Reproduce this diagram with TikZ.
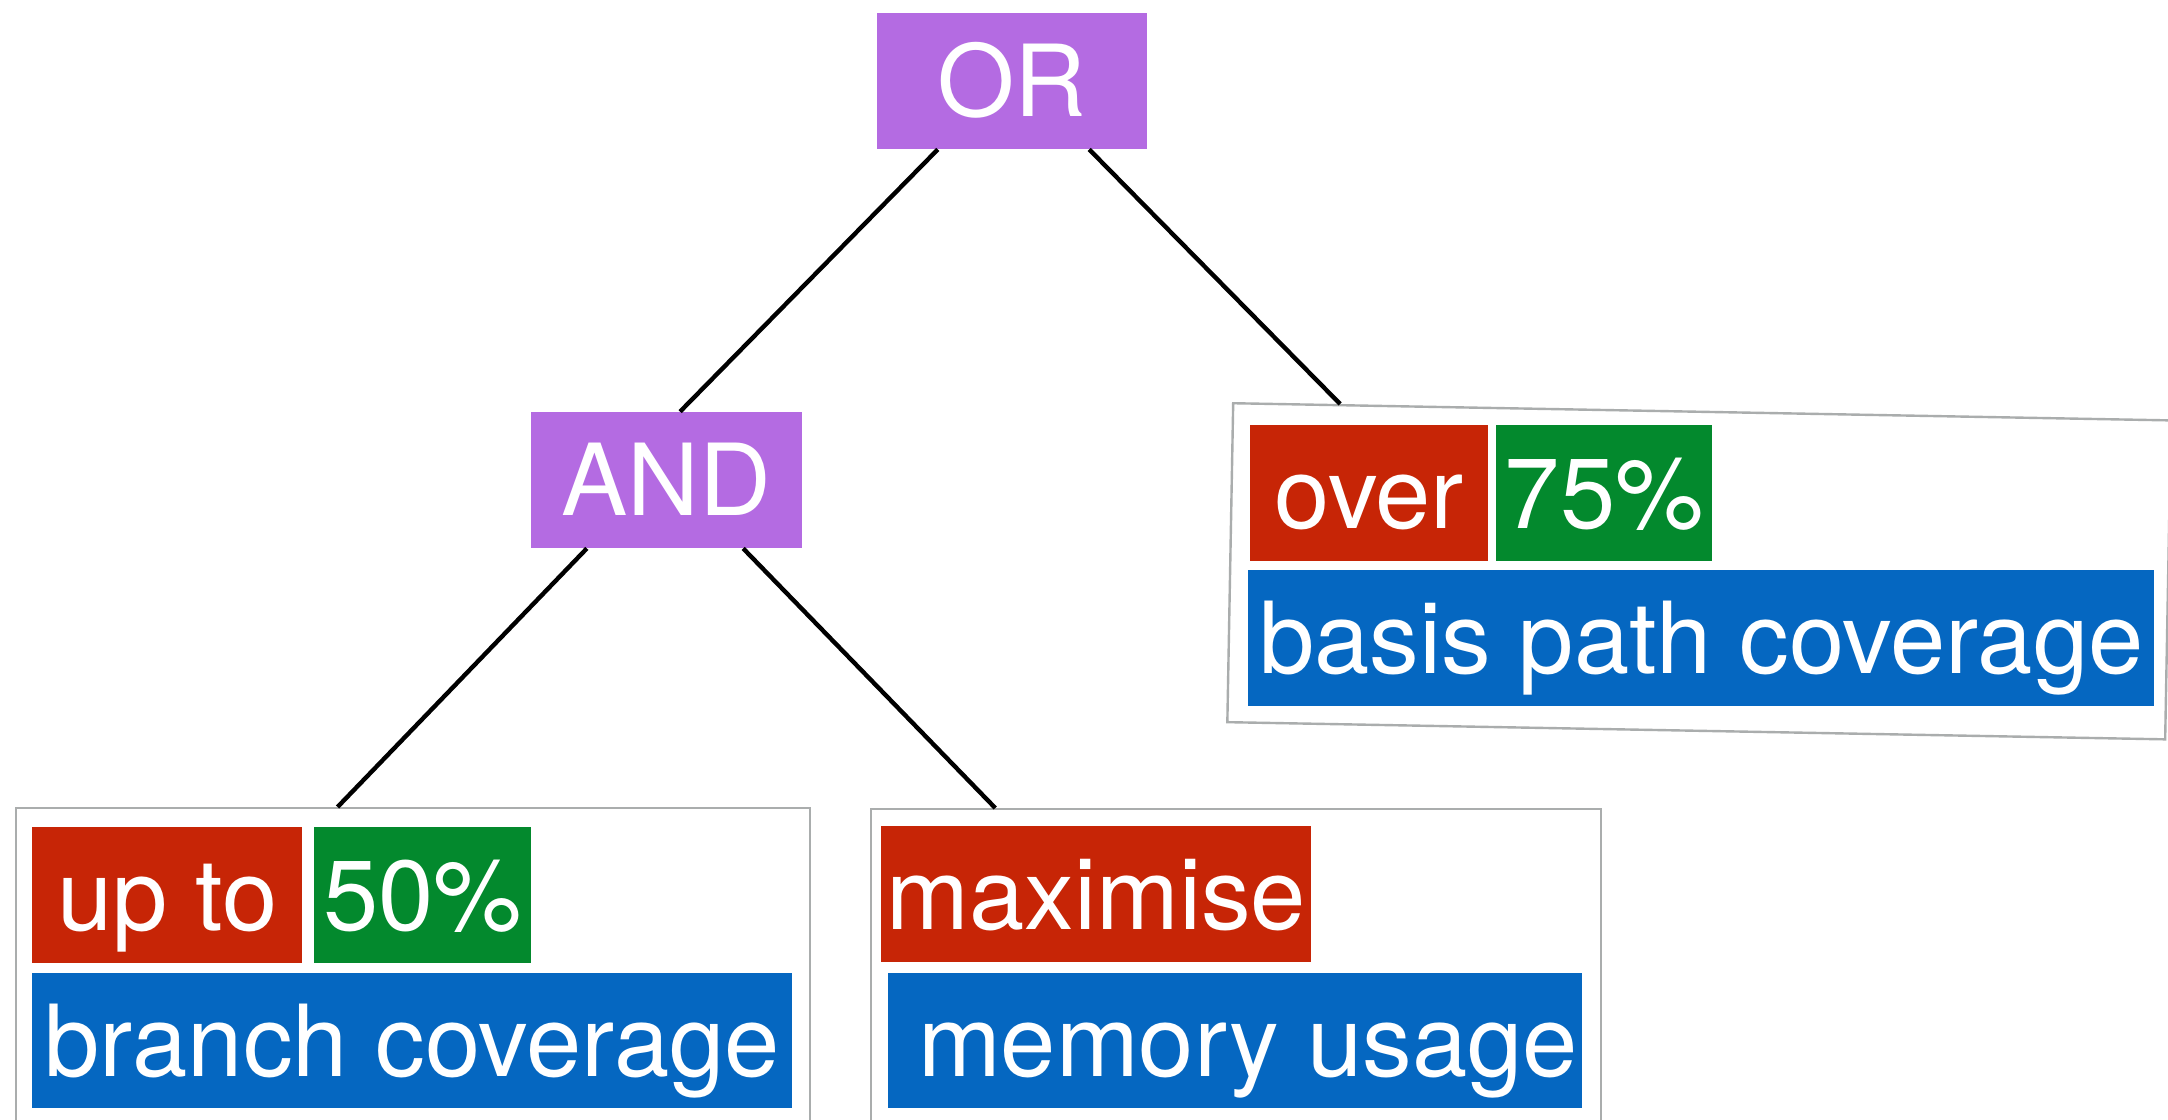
\documentclass[tikz,border=0pt]{standalone}
\usepackage{fontspec}
\setmainfont{TeX Gyre Heros}
\usetikzlibrary{calc}
\definecolor{opPurple}{RGB}{180,107,226}
\definecolor{cRed}{RGB}{199,37,6}
\definecolor{cGreen}{RGB}{3,137,45}
\definecolor{cBlue}{RGB}{5,103,193}
\definecolor{frameGray}{RGB}{170,173,173}
\tikzset{
  lbl/.style={inner sep=0pt, text=white, font=\fontsize{49.7}{60}\selectfont,
    text height=35.5pt, text depth=0pt, anchor=north west},
  opbox/.style={lbl, fill=opPurple, anchor=center},
  redbox/.style={lbl, fill=cRed},
  greenbox/.style={lbl, fill=cGreen},
  bluebox/.style={lbl, fill=cBlue},
  frame/.style={draw=frameGray, line width=1.2pt, fill=white, inner sep=0pt, anchor=north west},
  conn/.style={draw=black, line width=2.2pt}
}
\begin{document}
\begin{tikzpicture}[x=0.5pt,y=-0.5pt]
\clip (0,0) rectangle (2168,1119);
\fill[white] (0,0) rectangle (2168,1119);
% operators
\node[opbox, minimum width=135pt, minimum height=68pt] (or) at (1012,81) {OR};
\node[opbox, minimum width=135.5pt, minimum height=68pt] (and) at (666.5,480) {AND};
% left goal
\node[frame, minimum width=397pt, minimum height=170pt] (lbox) at (15,807) {};
\node[redbox, minimum width=135pt, minimum height=68pt] (upto) at (32,827) {up to};
\node[greenbox, minimum width=108.5pt, minimum height=68pt] (fifty) at (314,827) {50\%};
\node[bluebox, minimum width=380pt, minimum height=67.5pt] (branch) at (32,973) {branch coverage};
% middle goal
\node[frame, minimum width=365pt, minimum height=170pt] (mbox) at (870,808) {};
\node[redbox, minimum width=215pt, minimum height=68pt] (maxim) at (881,826) {maximise};
\node[bluebox, minimum width=347pt, minimum height=67.5pt] (memory) at (888,973) {\hspace*{12.5pt}memory usage};
% right goal (tilted frame)
\node[frame, rotate=-1.05, minimum width=469pt, minimum height=159.5pt] (rbox) at (1232,402) {};
\node[redbox, minimum width=119pt, minimum height=68pt] (over) at (1250,425) {over};
\node[greenbox, minimum width=108pt, minimum height=68pt] (sevfive) at (1496,425) {75\%};
\node[bluebox, minimum width=453pt, minimum height=68pt] (basis) at (1248,570) {basis path coverage};
% connectors
\draw[conn] ($(or.south west)!0.226!(or.south east)$) -- ($(and.north west)!0.55!(and.north east)$);
\draw[conn] ($(or.south west)!0.785!(or.south east)$) -- ($(rbox.north west)!0.115!(rbox.north east)$);
\draw[conn] ($(and.south west)!0.207!(and.south east)$) -- ($(lbox.north west)!0.405!(lbox.north east)$);
\draw[conn] ($(and.south west)!0.782!(and.south east)$) -- ($(mbox.north west)!0.171!(mbox.north east)$);
\end{tikzpicture}
\end{document}
